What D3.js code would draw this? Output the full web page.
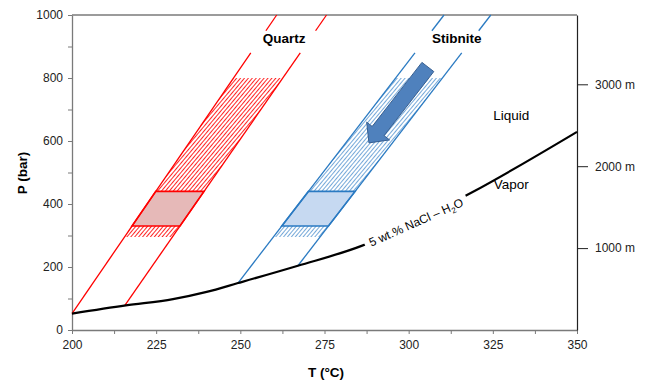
<!DOCTYPE html>
<html>
<head>
<meta charset="utf-8">
<script src="https://cdn.jsdelivr.net/npm/d3@7"></script>
<style>
  body { margin: 0; background: #fff; }
  svg { font-family: "Liberation Sans", Arial, sans-serif; }
</style>
</head>
<body>
<svg width="646" height="381"></svg>
<script>
// T (°C), P (bar)
const boilingCurve = [[200, 52], [216, 78], [230, 98], [240, 121], [249.3, 149],
    [267.1, 204], [286, 267], [303, 350], [319, 438], [350, 629]];
const quartzIsochores = [[[200, 52], [260.8, 1000]], [[215.7, 78], [275.6, 1000]]];
const stibniteIsochores = [[[249.3, 149], [310.5, 1000]], [[267.1, 204], [324.4, 1000]]];
const hatchRange = [295, 800];
const boxRange = [330, 440];
const lineGap = [880, 950];
const arrowPts = [[305.7, 835], [288.2, 594]];
const tempTicks = [200, 225, 250, 275, 300, 325, 350];
const presTicks = [0, 200, 400, 600, 800, 1000];
const depthTicks = [1000, 2000, 3000];
const barPerKm = 260;
const regionLabels = [{ text: "Quartz", T: 263, P: 910 }, { text: "Stibnite", T: 314.3, P: 912 }];
const phaseLabels = [{ text: "Liquid", T: 330.5, P: 683 }, { text: "Vapor", T: 330.5, P: 464 }];

const svg = d3.select("svg");
const x = d3.scaleLinear().domain([200, 350]).range([72, 577]);
const y = d3.scaleLinear().domain([0, 1000]).range([330, 15]);

const defs = svg.append("defs");
function hatch(id, color, width) {
    const p = defs.append("pattern")
        .attr("id", id)
        .attr("patternUnits", "userSpaceOnUse")
        .attr("width", 3).attr("height", 3)
        .attr("patternTransform", "rotate(40)");
    p.append("line").attr("x1", 0).attr("y1", 0).attr("x2", 0).attr("y2", 3)
        .attr("stroke", color).attr("stroke-width", width);
}
hatch("hatchRed", "#ff1a1a", 1.9);
hatch("hatchBlue", "#3a84c8", 1.4);

// axes
const minorT = d3.range(200, 350.1, 12.5);
const minorP = d3.range(0, 1000.1, 100);

const xAxis = svg.append("g")
    .attr("transform", "translate(0,330)")
    .call(d3.axisBottom(x).tickValues(minorT).tickSize(4).tickSizeOuter(0).tickPadding(6)
        .tickFormat(d => tempTicks.includes(d) ? d : ""));
const yAxis = svg.append("g")
    .attr("transform", "translate(72,0)")
    .call(d3.axisLeft(y).tickValues(minorP).tickSize(4).tickSizeOuter(0).tickPadding(5)
        .tickFormat(d => presTicks.includes(d) ? d : ""));
[xAxis, yAxis].forEach(a => {
    a.select(".domain").attr("stroke", "#7a7a7a").attr("stroke-width", 1.3);
    a.selectAll(".tick line").attr("stroke", "#7a7a7a");
    a.selectAll(".tick text").attr("font-size", "12px").attr("fill", "#222")
        .attr("font-family", "Liberation Sans, Arial, sans-serif");
});

svg.append("line").attr("x1", x(200)).attr("x2", x(350)).attr("y1", y(1000)).attr("y2", y(1000))
    .attr("stroke", "#7a7a7a").attr("stroke-width", 1.3);

const yDepth = d3.scaleLinear().domain([0, 1000 / barPerKm * 1000]).range([330, 15]);
const rAxis = svg.append("g")
    .attr("transform", "translate(577,0)")
    .call(d3.axisRight(yDepth).tickValues(depthTicks).tickSize(11).tickSizeOuter(0).tickPadding(7)
        .tickFormat(d => d + " m"));
rAxis.select(".domain").attr("stroke", "#222").attr("stroke-width", 1.2);
rAxis.selectAll(".tick line").attr("stroke", "#222");
rAxis.selectAll(".tick text").attr("font-size", "12px").attr("fill", "#222")
    .attr("font-family", "Liberation Sans, Arial, sans-serif");

svg.append("text")
    .attr("transform", "translate(27,173) rotate(-90)")
    .attr("text-anchor", "middle")
    .attr("font-size", "13.5px").attr("font-weight", "bold")
    .text("P (bar)");
svg.append("text")
    .attr("x", 326).attr("y", 377)
    .attr("text-anchor", "middle")
    .attr("font-size", "13.5px").attr("font-weight", "bold")
    .text("T (°C)");

// isochore helpers
const tAt = (seg, P) => seg[0][0] + (seg[1][0] - seg[0][0]) * (P - seg[0][1]) / (seg[1][1] - seg[0][1]);
function band(iso, p0, p1) {
    return [[tAt(iso[0], p0), p0], [tAt(iso[1], p0), p0], [tAt(iso[1], p1), p1], [tAt(iso[0], p1), p1]]
        .map(d => [x(d[0]), y(d[1])].join(",")).join(" ");
}

function drawMineral(iso, color, boxFill, hatchId) {
    svg.append("polygon")
        .attr("points", band(iso, hatchRange[0], hatchRange[1]))
        .attr("fill", "url(#" + hatchId + ")");

    svg.append("polygon")
        .attr("points", band(iso, boxRange[0], boxRange[1]))
        .attr("fill", boxFill)
        .attr("stroke", color).attr("stroke-width", 1.6);

    iso.forEach(seg => {
        const pieces = [[seg[0][1], lineGap[0]], [lineGap[1], 1000]];
        pieces.forEach(pc => {
            svg.append("line")
                .attr("x1", x(tAt(seg, pc[0]))).attr("y1", y(pc[0]))
                .attr("x2", x(tAt(seg, pc[1]))).attr("y2", y(pc[1]))
                .attr("stroke", color).attr("stroke-width", 1.3);
        });
    });
}
drawMineral(quartzIsochores, "#ff0000", "#e6b9b8", "hatchRed");
drawMineral(stibniteIsochores, "#2a7ac2", "#c6d9f1", "hatchBlue");

// boiling curve
svg.append("path")
    .datum(boilingCurve)
    .attr("fill", "none")
    .attr("stroke", "#000")
    .attr("stroke-width", 2.2)
    .attr("d", d3.line().x(d => x(d[0])).y(d => y(d[1])).curve(d3.curveMonotoneX));

const curveLabel = svg.append("g")
    .attr("transform", "translate(" + x(302.2) + "," + y(342) + ") rotate(-24)");
curveLabel.append("rect")
    .attr("x", -56).attr("y", -9).attr("width", 112).attr("height", 17)
    .attr("fill", "#fff");
const cl = curveLabel.append("text")
    .attr("text-anchor", "middle")
    .attr("dy", "0.35em")
    .attr("font-size", "12px");
cl.append("tspan").text("5 wt.% NaCl – H");
cl.append("tspan").attr("dy", 3).attr("font-size", "8px").text("2");
cl.append("tspan").attr("dy", -3).text("O");

// arrow
const a0 = [x(arrowPts[0][0]), y(arrowPts[0][1])];
const a1 = [x(arrowPts[1][0]), y(arrowPts[1][1])];
const len = Math.hypot(a1[0] - a0[0], a1[1] - a0[1]);
const u = [(a1[0] - a0[0]) / len, (a1[1] - a0[1]) / len];
const n = [-u[1], u[0]];
const headLen = 15, sw = 7.5, hw = 14.5;
const b = [a1[0] - u[0] * headLen, a1[1] - u[1] * headLen];
const arrowPoly = [
    [a0[0] + n[0] * sw, a0[1] + n[1] * sw],
    [b[0] + n[0] * sw, b[1] + n[1] * sw],
    [b[0] + n[0] * hw, b[1] + n[1] * hw],
    a1,
    [b[0] - n[0] * hw, b[1] - n[1] * hw],
    [b[0] - n[0] * sw, b[1] - n[1] * sw],
    [a0[0] - n[0] * sw, a0[1] - n[1] * sw]
];
svg.append("polygon")
    .attr("points", arrowPoly.map(p => p.join(",")).join(" "))
    .attr("fill", "#4f81bd")
    .attr("stroke", "#375f91")
    .attr("stroke-width", 1);

// labels
svg.selectAll(".region-label")
    .data(regionLabels)
    .enter()
    .append("text")
    .attr("class", "region-label")
    .attr("x", d => x(d.T)).attr("y", d => y(d.P))
    .attr("text-anchor", "middle")
    .attr("font-size", "13.5px").attr("font-weight", "bold")
    .text(d => d.text);

svg.selectAll(".phase-label")
    .data(phaseLabels)
    .enter()
    .append("text")
    .attr("class", "phase-label")
    .attr("x", d => x(d.T)).attr("y", d => y(d.P))
    .attr("text-anchor", "middle")
    .attr("dy", "0.35em")
    .attr("font-size", "13.5px")
    .text(d => d.text);
</script>
</body>
</html>
